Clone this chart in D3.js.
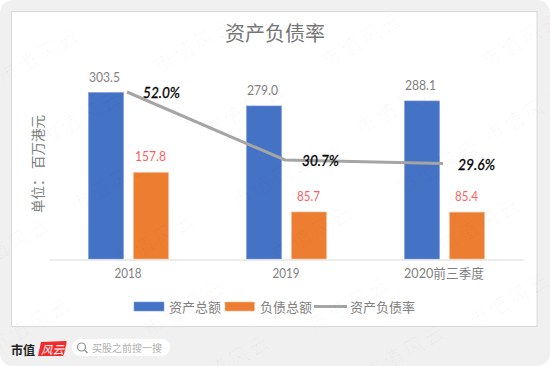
<!DOCTYPE html>
<html><head><meta charset="utf-8">
<script src="https://cdnjs.cloudflare.com/ajax/libs/d3/7.8.5/d3.min.js"></script>
<style>html,body{margin:0;padding:0;background:#fff}svg{display:block}
text{font-family:Lato,"Noto Sans CJK SC",sans-serif}</style></head><body>
<svg id="c" width="550" height="366"></svg>
<script>
const categories=["2018","2019","2020前三季度"];
const assets=[303.5,279.0,288.1];
const liabilities=[157.8,85.7,85.4];
const ratio=[52.0,30.7,29.6];
const legendLabels=["资产总额","负债总额","资产负债率"];
const chartTitle="资产负债率";
const axisTitle="单位： 百万港元";
const watermarkText="市值风云";
const watermarkSpots=[[39,56],[195,45],[362,40],[522,40],[82,118],[245,110],[398,107],[525,115],[111,184],[273,180],[439,167],[10,245],[155,240],[313,233],[480,225],[30,325],[185,308],[350,304],[510,300],[230,362],[405,352]];

const svg=d3.select("#c");
svg.append("rect").attr("width",550).attr("height",366).attr("rx",13).attr("fill","#f0f0f0");
svg.append("rect").attr("x",11.5).attr("y",11.5).attr("width",252+275-1.5).attr("height",133+183-1).attr("fill","#fff").attr("stroke","#d9d9d9");

const x=d3.scaleBand().domain(categories).range([49,523]);
const y=d3.scaleLinear().domain([0,303.5]).range([259,92.5]);
const yr=d3.scaleLinear().domain([0,52]).range([258,92]);
const barW=35, off=[-40,5];
const cx=c=>x(c)+x.bandwidth()/2;
const g=svg.append("g");
const ser=[{v:assets,c:"#4472c4",s:"#7d9bd8",t:"#7f7f7f"},{v:liabilities,c:"#ed7d31",s:"#f7bd94",t:"#ff5f5f"}];
ser.forEach((s,i)=>{
  g.selectAll(null).data(categories).join("rect")
   .attr("x",d=>cx(d)+off[i]+0.5).attr("width",barW)
   .attr("y",(d,j)=>y(s.v[j])).attr("height",(d,j)=>259-y(s.v[j]))
   .attr("fill",s.c).attr("stroke",s.s).attr("stroke-width",.6);
  g.selectAll(null).data(categories).join("text")
   .attr("x",d=>cx(d)+off[i]+barW/2-(i?0:1)).attr("y",(d,j)=>y(s.v[j])-11)
   .attr("text-anchor","middle").attr("font-size",14).attr("fill",s.t)
   .attr("textLength",(d,j)=>s.v[j]>=100?31:23).attr("lengthAdjust","spacingAndGlyphs")
   .text((d,j)=>s.v[j].toFixed(1));
});
const axis=g.append("g").attr("transform","translate(0,259.5)")
  .call(d3.axisBottom(x).tickSize(0).tickPadding(9));
axis.select(".domain").attr("stroke","#d9d9d9").attr("stroke-width",1);
axis.selectAll("text").attr("font-size",13).attr("fill","#7f7f7f").style("font-family",'Lato,"Noto Sans CJK SC",sans-serif')
  .attr("textLength",(d,i)=>[27,27,80][i]).attr("lengthAdjust","spacingAndGlyphs");

const line=d3.line().x(d=>cx(d.c)-1).y(d=>yr(d.v));
const pts=categories.map((c,i)=>({c,v:ratio[i]}));
g.append("path").attr("d",line(pts)).attr("fill","none").attr("stroke","#a5a5a5").attr("stroke-width",3);
g.selectAll(null).data(pts).join("text")
 .attr("x",(d,i)=>cx(d.c)+[15,16,14][i]).attr("y",(d,i)=>yr(d.v)+[6,6,6][i])
 .attr("font-size",15).attr("font-style","italic").attr("font-weight","400").attr("fill","#000")
 .attr("stroke","#000").attr("stroke-width",.3)
 .attr("textLength",37).attr("lengthAdjust","spacingAndGlyphs")
 .text(d=>d.v.toFixed(1)+"%");

svg.append("text").attr("x",275).attr("y",41).attr("text-anchor","middle").attr("font-size",20).attr("fill","#757575").text(chartTitle);
svg.append("text").attr("transform","translate(43,164) rotate(-90)").attr("text-anchor","middle").attr("font-size",13.5).attr("fill","#7a807c").text(axisTitle);

const lg=svg.append("g");
lg.append("rect").attr("x",134).attr("y",302).attr("width",30).attr("height",9).attr("fill","#4472c4").attr("stroke","#7d9bd8").attr("stroke-width",.6);
lg.append("rect").attr("x",225).attr("y",302).attr("width",29.5).attr("height",9).attr("fill","#ed7d31").attr("stroke","#f7bd94").attr("stroke-width",.6);
lg.append("line").attr("x1",314).attr("x2",347).attr("y1",306.5).attr("y2",306.5).attr("stroke","#a5a5a5").attr("stroke-width",3);
[169,260,350].forEach((p,i)=>lg.append("text").attr("x",p).attr("y",311.5).attr("font-size",13).attr("fill","#808080").text(legendLabels[i]));

svg.append("text").attr("x",11).attr("y",355).attr("font-size",12).attr("font-weight",700).attr("fill","#222").text("市值");
svg.append("path").attr("d","M41 342 L66 341 Q67 341 66.5 343 L64 354 Q63.5 356 62 356 L38 356 Z").attr("fill","#f02b2b");
svg.append("text").attr("x",41).attr("y",353.5).attr("font-size",11.5).attr("font-style","italic").attr("fill","#fff").text("风云");
svg.append("rect").attr("x",72).attr("y",339).attr("width",98).attr("height",17).attr("rx",8.5).attr("fill","#fff");
svg.append("circle").attr("cx",81.5).attr("cy",347).attr("r",4).attr("fill","none").attr("stroke","#8c8c8c").attr("stroke-width",1.2);
svg.append("line").attr("x1",84.5).attr("y1",350).attr("x2",87.5).attr("y2",353).attr("stroke","#8c8c8c").attr("stroke-width",1.2);
svg.append("text").attr("x",92).attr("y",351.5).attr("font-size",10).attr("fill","#b0b0b0").text("买股之前搜一搜");

svg.append("g").selectAll("text").data(watermarkSpots).join("text")
 .attr("transform",d=>`translate(${d[0]},${d[1]}) rotate(-30)`).attr("text-anchor","middle").attr("dy",7)
 .attr("font-size",20).attr("letter-spacing",3).attr("font-weight",300).attr("fill","#000").attr("fill-opacity",.04).text(watermarkText);
</script></body></html>
